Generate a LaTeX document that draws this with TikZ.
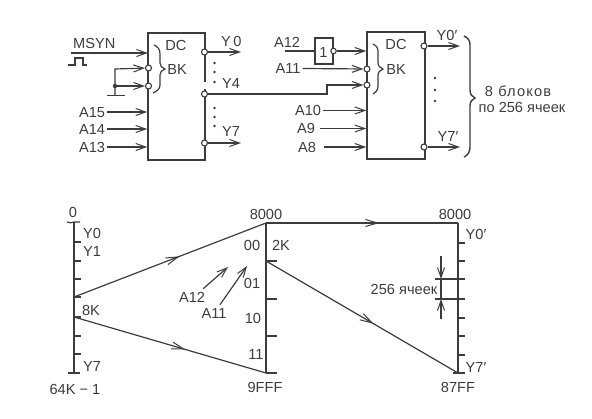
\documentclass[tikz,border=0pt]{standalone}
\usepackage{fontspec}
\setmainfont{Liberation Sans}
\usetikzlibrary{arrows.meta,decorations.markings}
\definecolor{ink}{HTML}{3C3C3C}
\tikzset{
  x=1pt,y=-1pt,
  every path/.style={color=ink},
  wire/.style={line width=1.2pt,draw=ink},
  arr/.style={wire,-{Straight Barb[length=10pt,width=7pt,line width=1pt]}},
  midarr/.style={wire,decoration={markings,mark=at position #1 with {\arrow{Straight Barb[length=12pt,width=7pt,line width=1pt]}}},postaction={decorate}},
  lab/.style={inner sep=0pt,text=ink,font=\fontsize{14.6}{16}\selectfont,text height=10.2pt,text depth=0pt},
  small/.style={lab},
  blockbox/.style={draw=ink,line width=1.5pt,fill=none,inner sep=0pt},
  bub/.style={circle,draw=ink,fill=white,line width=1.1pt,minimum size=6pt,inner sep=0pt},
  axis/.style={line width=2.4pt,draw=ink},
  tick/.style={line width=1.2pt,draw=ink},
  dotm/.style={circle,fill=ink,minimum size=2.6pt,inner sep=0pt},
  brace/.style={line width=1.2pt,draw=ink},
}
\begin{document}
\begin{tikzpicture}
\useasboundingbox (0,0) rectangle (592,418);
% --- left decoder
\node[blockbox,minimum width=57pt,minimum height=127pt] (b1) at (176.5,96.5) {};
\draw[white,line width=2.4pt] (205,82) -- (205,89);
\node[lab] (dc1) at (176,45) {DC};
\node[lab] (bk1) at (177,69) {BK};
\draw[brace] (154,45) .. controls (158,47) and (160,49) .. (160,54) -- (160,63) .. controls (160,66) and (162,68) .. (165,69) .. controls (162,70) and (160,72) .. (160,75) -- (160,85) .. controls (160,89) and (157,91) .. (153,93);
\node[bub] (c1) at (148.5,68) {};
\node[bub] (c2) at (148.5,86) {};
\node[bub] (o0) at (204.5,52) {};
\node[bub] (o4) at (204.5,94) {};
\node[bub] (o7) at (204.5,143) {};
\node[lab,anchor=west] (msyn) at (73,43) {MSYN};
\coordinate (msynst) at (71,53);
\coordinate (msynend) at (148,53);
\draw[arr] (msynst) -- (msynend);
\draw[wire] (68,65) -- (75,65) -- (75,58) -- (83,58) -- (83,65) -- (87,65);
\node[lab] (a15) at (92,112) {A15};
\node[lab] (a14) at (92,129) {A14};
\node[lab] (a13) at (92,147) {A13};
\draw[arr] (a15.east)+(2,0) -- (a15.east -| b1.west);
\draw[arr] (a14.east)+(2,0) -- (a14.east -| b1.west);
\draw[arr] (a13.east)+(2,0) -- (a13.east -| b1.west);
\coordinate (j1t) at (115,69);
\node[dotm,minimum size=4.5pt] (j1) at (115,86) {};
\coordinate (gnd) at (115,95);
\draw[arr] (gnd) -- (j1t) -- (c1);
\draw[arr] (j1) -- (c2);
\draw[line width=1.5pt,draw=ink] (107,95.5) -- (125,95.5);
\node[lab,anchor=west] (y0) at (221,41) {Y\,0};
\node[lab,anchor=west] (y4) at (222,83) {Y4};
\node[lab,anchor=west] (y7) at (222,131) {Y7};
\coordinate (y0e) at (241,52);
\coordinate (y7e) at (241,143);
\draw[arr] (o0) -- (y0e);
\draw[arr] (o7) -- (y7e);
\foreach \n/\yy in {a/63,b/72,c/82,d/108,e/117,f/126}{\node[dotm] (dl\n) at (214.5,\yy) {};}
% --- right decoder
\node[blockbox,minimum width=58pt,minimum height=127pt] (b2) at (396,95.5) {};
\node[lab] (dc2) at (396,44) {DC};
\node[lab] (bk2) at (396,69) {BK};
\draw[brace] (373,44) .. controls (377,46) and (378,48) .. (378,52) -- (378,62) .. controls (378,66) and (380,68) .. (383,69) .. controls (380,70) and (378,72) .. (378,76) -- (378,86) .. controls (378,90) and (376,92) .. (373,94);
\node[bub] (c3) at (367,69) {};
\node[bub] (c4) at (367,85) {};
\node[bub] (o0p) at (424,46) {};
\node[bub] (o7p) at (424,147) {};
\node[draw=ink,line width=1.5pt,minimum width=18pt,minimum height=26pt,inner sep=0pt] (inv) at (324,51) {};
\node[lab,anchor=center] (one) at (323.5,52) {1};
\node[bub,minimum size=5.5pt] (invo) at (333.5,51) {};
\node[lab] (a12) at (287,42) {A12};
\coordinate (a12s) at (285,51);
\draw[wire] (a12s) -- (a12s -| inv.west);
\draw[arr] (invo) -- (invo -| b2.west);
\node[lab] (a11) at (288,68.5) {A11};
\draw[arr] (a11.east)+(2,0) -- (c3);
\node[lab] (a10) at (308,110.5) {A10};
\node[lab] (a9) at (306,128.5) {A9};
\node[lab] (a8) at (307,147) {A8};
\draw[arr] (a10.east)+(2,0) -- (a10.east -| b2.west);
\draw[arr] (a9.east)+(5,0) -- (a9.east -| b2.west);
\draw[arr] (a8.east)+(8,0) -- (a8.east -| b2.west);
\coordinate (k1) at (327,94);
\coordinate (k2) at (327,85);
\draw[arr] (o4) -- (k1) -- (k2) -- (c4);
\node[lab] (y0p) at (447,35) {Y0′};
\node[lab] (y7p) at (448,136) {Y7′};
\coordinate (y0pe) at (460,46);
\coordinate (y7pe) at (460,147);
\draw[arr] (o0p) -- (y0pe);
\draw[arr] (o7p) -- (y7pe);
\foreach \n/\yy in {a/78,b/90,c/101}{\node[dotm] (dr\n) at (435,\yy) {};}
\draw[brace,line width=1.4pt] (464,36) .. controls (468,38) and (470,40) .. (470,45) -- (470,90) .. controls (470,94) and (472,97) .. (475,98) .. controls (472,99) and (470,102) .. (470,106) -- (470,147) .. controls (470,152) and (468,155) .. (464,157);
\node[small] (t8) at (518,91.5) {\addfontfeature{LetterSpace=8}8 блоков};
\node[small] (t256) at (522,107) {по 256 ячеек};
% --- memory map, left axis
\coordinate (la) at (74,222);
\coordinate (lb) at (74,373);
\draw[axis] (la) -- (lb);
\draw[tick] (67,222) .. controls (70,223) .. (74,222) -- (80,222);
\draw[tick] (68,373) -- (80,373);
\foreach \yy in {242,261,279,297,317,336,354}{\draw[tick] (74,\yy) -- (81,\yy);}
\coordinate (l4) at (74,297);
\coordinate (l5) at (74,317);
% --- middle axis
\coordinate (ma) at (266,223);
\coordinate (mb) at (266,373);
\draw[axis] (ma) -- (mb);
\foreach \yy in {261,299,336,373}{\draw[tick] (266,\yy) -- (277,\yy);}
\coordinate (m1) at (266,261);
% --- right axis
\coordinate (ra) at (458,223);
\coordinate (rb) at (458,373);
\draw[axis] (ra) -- (rb);
\foreach \yy in {243,261,318,336,355}{\draw[tick] (458,\yy) -- (465,\yy);}
\draw[tick] (453,373) -- (465,373);
\draw[tick] (435,279) -- (465,279);
\draw[tick] (435,299) -- (465,299);
% --- mapping lines
\draw[midarr=.55] (l4) -- (ma);
\draw[midarr=.58] (l5) -- (mb);
\draw[midarr=.59] (ma) -- (ra);
\draw[midarr=.56] (m1) -- (rb);
% --- dimension
\coordinate (d1) at (441,256);
\coordinate (d2) at (441,279);
\coordinate (d3) at (441,299);
\coordinate (d4) at (441,319);
\draw[arr] (d1) -- (d2);
\draw[arr] (d4) -- (d3);
\draw[wire] (d2) -- (d3);
\node[small] (n256) at (404,289) {256 ячеек};
% --- labels of the map
\node[lab] (z0) at (73,212.5) {0};
\node[lab] (top1) at (266,214) {8000};
\node[lab] (top2) at (455,214) {8000};
\node[lab] (my0) at (92,233.5) {Y0};
\node[lab] (my1) at (92,251.5) {Y1};
\node[lab] (k8) at (91,310) {8K};
\node[lab] (my7) at (92,366) {Y7};
\node[lab] (k64) at (75,389) {64K − 1};
\node[lab] (n00) at (252,245) {00};
\node[lab] (k2k) at (281,245) {2K};
\node[lab] (n01) at (252,283.5) {01};
\node[lab] (n10) at (253,318) {10};
\node[lab] (n11) at (256,354) {11};
\node[lab] (ma12) at (192,297) {A12};
\node[lab] (ma11) at (214,313) {A11};
\node[lab] (b9) at (265,387.5) {9FFF};
\node[lab] (b8) at (458,387.5) {87FF};
\node[lab] (ry0) at (476,234) {Y0′};
\node[lab] (ry7) at (476,367) {Y7′};
\coordinate (pa12) at (228,267);
\coordinate (pa11) at (247,266);
\draw[arr] (ma12.north east)+(-2,-3) -- (pa12);
\draw[arr] (ma11.north)+(6,-3) -- (pa11);
\end{tikzpicture}
\end{document}
